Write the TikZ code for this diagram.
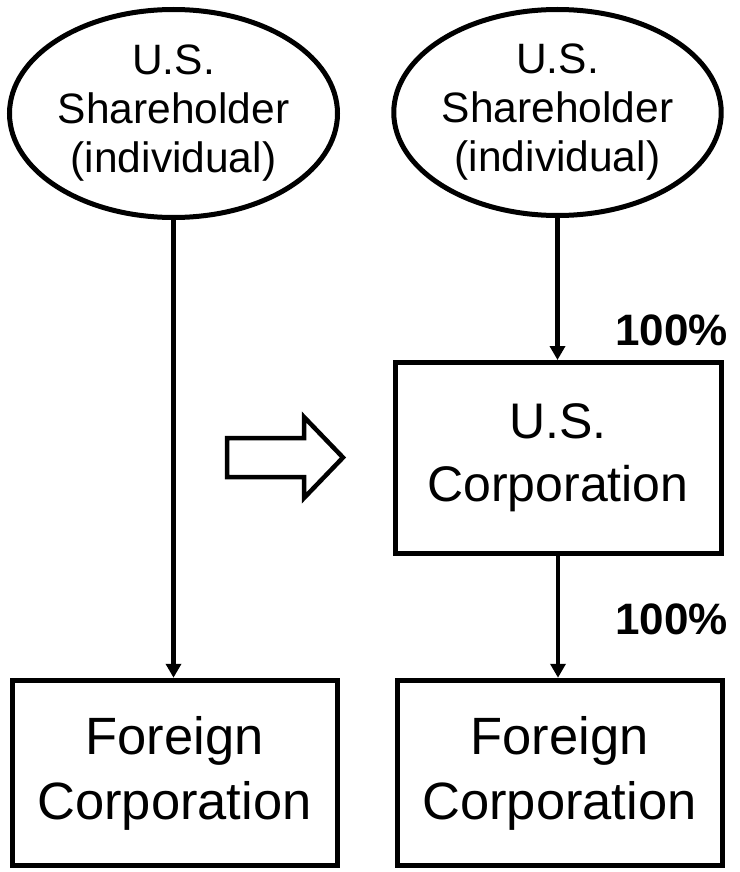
\documentclass[tikz,border=0pt]{standalone}
\usepackage{fontspec}
\setmainfont{Liberation Sans}
\usetikzlibrary{shapes.geometric,arrows.meta}
\begin{document}
\begin{tikzpicture}[x=1pt,y=-1pt,
  owner/.style={ellipse,draw,line width=5pt,inner sep=0pt,align=center,
    minimum width=#1,minimum height=208pt,font=\fontsize{42.5}{49}\selectfont},
  corp/.style={rectangle,draw,line width=5pt,inner sep=0pt,align=center,
    minimum width=326pt},
  link/.style={line width=4.5pt,-{Triangle[width=15pt,length=14pt]}},
  pct/.style={font=\fontsize{44}{50}\selectfont\bfseries,inner sep=0pt,anchor=base east}]
\useasboundingbox (0,0) rectangle (739,872);
\node[owner=328pt] (sh1) at (173.5,113.5) {U.S.\\Shareholder\\(individual)};
\node[owner=325pt,minimum height=206pt] (sh2) at (557.5,112.5) {U.S.\\Shareholder\\(individual)};
\node[corp,minimum height=191pt,font=\fontsize{50}{63}\selectfont] (usc) at (558,458) {U.S.\\Corporation};
\node[corp,minimum height=185.5pt,minimum width=325pt,font=\fontsize{52.5}{65}\selectfont] (fc1) at (174.5,773) {Foreign\\Corporation};
\node[corp,minimum height=185.5pt,minimum width=325pt,font=\fontsize{52.5}{65}\selectfont] (fc2) at (559.5,773) {Foreign\\Corporation};
\draw[link] (sh1.south) -- (sh1.south |- fc1.north);
\draw[link] (sh2.south) -- (sh2.south |- usc.north);
\draw[link] (usc.south) -- (usc.south |- fc2.north);
\node[pct] (p1) at (728,345) {100\%};
\node[pct] (p2) at (728,634) {100\%};
\draw[line width=4.5pt,line join=miter] (227,438) -- (304,438) -- (304,417) -- (343,457.5) -- (304,498) -- (304,477) -- (227,477) -- cycle;
\end{tikzpicture}
\end{document}
